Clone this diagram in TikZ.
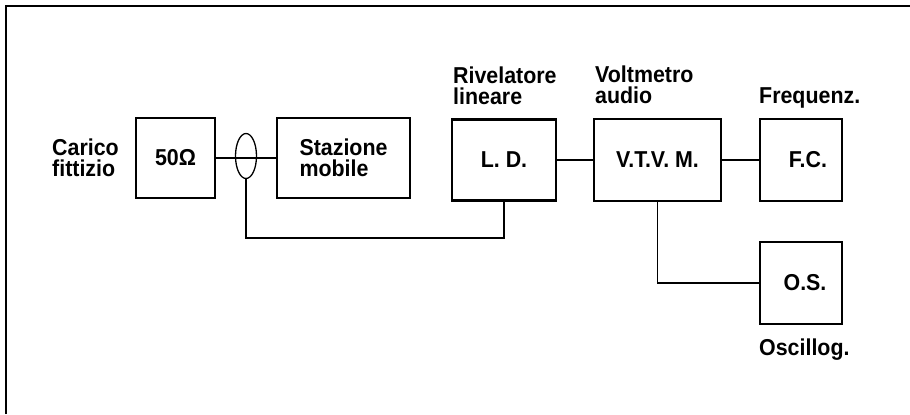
\documentclass[tikz,border=0pt]{standalone}
\usepackage{fontspec}
\setmainfont{Liberation Sans}
\newfontfamily\lblfamily{Liberation Sans}[FakeStretch=0.93]
\usetikzlibrary{shapes.geometric}
\newcommand{\lbl}{\lblfamily\bfseries\fontsize{23bp}{21bp}\selectfont}
\tikzset{
  box/.style={draw, line width=2.8bp, rectangle, inner sep=0pt, font=\lbl, align=left},
  conn/.style={line width=1.3bp},
  lab/.style={inner sep=0pt, font=\lbl, align=left, anchor=north west},
}
\begin{document}
\begin{tikzpicture}[x=1bp,y=-1bp]
\useasboundingbox (0,0) rectangle (910,414);
% open frame
\draw[line width=2.5bp] (6,414) -- (6,6) -- (910,6);
% boxes
\node[box, minimum width=79bp, minimum height=80bp] (r50) at (175.5,158) {50Ω};
\node[box, minimum width=133bp, minimum height=80bp] (sm) at (343.5,158) {Stazione\\mobile};
\node[box, minimum width=104bp, minimum height=81bp] (ld) at (504,160) {L. D.};
\node[box, minimum width=127bp, minimum height=82bp] (vt) at (657.5,160) {V.T.V. M.};
\node[box, minimum width=82bp, minimum height=82bp] (fc) at (801,160) {};
\node[inner sep=0pt, font=\lbl] (fct) at (808,160) {F.C.};
\node[box, minimum width=82bp, minimum height=82bp] (os) at (801,283) {};
\node[inner sep=0pt, font=\lbl] (ost) at (805,283) {O.S.};
% loop
\node[draw, ellipse, line width=1.3bp, inner sep=0pt, minimum width=21bp, minimum height=45bp] (loop) at (246,156) {};
\coordinate (yl) at (0,238);
% connectors
\draw[conn] (r50.east) -- (sm.west);
\draw[conn] (loop.south) -- (loop.south |- yl) -| (ld.south);
\draw[conn] (ld.east) -- (vt.west);
\draw[conn] (vt.east) -- (fc.west);
\draw[conn] (vt.south) |- (os.west);
% labels
\node[lab] (l1) at (52,138.2) {Carico\\fittizio};
\node[lab] (l2) at (453,66.2) {Rivelatore\\lineare};
\node[lab] (l3) at (595,65.5) {Voltmetro\\audio};
\node[lab] (l4) at (759,87.5) {Frequenz.};
\node[lab] (l5) at (759,338.2) {Oscillog.};
\end{tikzpicture}
\end{document}
